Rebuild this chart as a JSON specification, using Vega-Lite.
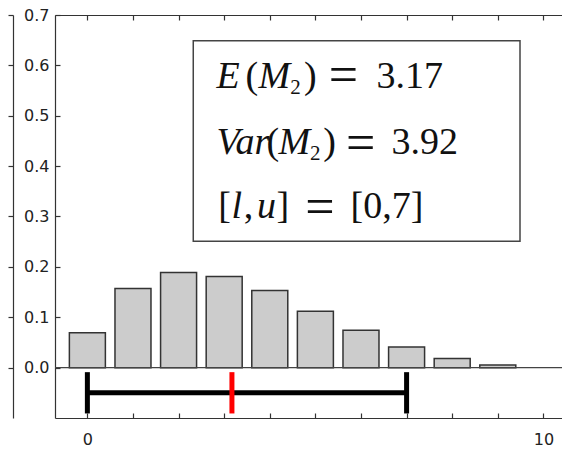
{
  "$schema": "https://vega.github.io/schema/vega-lite/v6.json",
  "width": 507,
  "height": 403,
  "autosize": {"type": "none"},
  "padding": {"left": 55, "top": 15, "right": 0, "bottom": 31},
  "config": {
    "view": {"stroke": null},
    "axis": {"labelFont": "DejaVu Sans", "labelFontSize": 16, "labelColor": "#222", "domainColor": "#333", "domainWidth": 1.2, "tickColor": "#333", "tickWidth": 1.2, "grid": false},
    "text": {"font": "Liberation Serif", "fontSize": 38, "color": "#111", "align": "left", "baseline": "alphabetic"}
  },
  "datasets": {
    "dist": [
      {"k": 0, "p": 0.069}, {"k": 1, "p": 0.157}, {"k": 2, "p": 0.189}, {"k": 3, "p": 0.181},
      {"k": 4, "p": 0.153}, {"k": 5, "p": 0.112}, {"k": 6, "p": 0.074}, {"k": 7, "p": 0.041},
      {"k": 8, "p": 0.018}, {"k": 9, "p": 0.005}
    ],
    "stats": [{"mean": 3.17, "variance": 3.92, "l": 0, "u": 7}]
  },
  "layer": [
    {
      "data": {"name": "dist"},
      "mark": {"type": "bar", "size": 36, "fill": "#cccccc", "stroke": "#333", "strokeWidth": 1.5},
      "encoding": {
        "x": {"field": "k", "type": "quantitative", "scale": {"domain": [-0.71, 10.408], "nice": false, "zero": false, "padding": 0},
          "axis": {"orient": "bottom", "title": null, "values": [0,1,2,3,4,5,6,7,8,9,10], "labelExpr": "datum.value == 0 || datum.value == 10 ? datum.label : ''", "labelOverlap": false, "labelFlush": false, "tickSize": -5, "labelPadding": 18}},
        "y": {"field": "p", "type": "quantitative", "scale": {"domain": [-0.1, 0.7], "nice": false, "zero": false, "padding": 0},
          "axis": {"title": null, "values": [0, 0.1, 0.2, 0.3, 0.4, 0.5, 0.6, 0.7], "format": ".1f", "tickSize": -5, "labelPadding": 11, "labelOverlap": false, "labelFlush": false}}
      }
    },
    {
      "data": {"name": "stats"},
      "mark": {"type": "rule", "color": "#444", "strokeWidth": 1.3},
      "encoding": {"y": {"datum": 0, "type": "quantitative", "axis": {"orient": "left", "offset": 42, "title": null, "labels": false, "values": [0, 0.1, 0.2, 0.3, 0.4, 0.5, 0.6, 0.7], "tickSize": 5}}}
    },
    {
      "data": {"name": "stats"},
      "mark": {"type": "rect", "fill": "white", "stroke": "#444", "strokeWidth": 1.5},
      "encoding": {
        "x": {"datum": 2.322, "type": "quantitative", "axis": null},
        "x2": {"datum": 9.487},
        "y": {"datum": 0.649, "type": "quantitative", "axis": null},
        "y2": {"datum": 0.251}
      }
    },
    {
      "data": {"name": "stats"},
      "mark": {"type": "rule", "color": "black", "strokeWidth": 5},
      "encoding": {
        "x": {"field": "l", "type": "quantitative", "axis": {"orient": "top", "title": null, "labels": false, "values": [0,1,2,3,4,5,6,7,8,9,10], "tickSize": -5}},
        "x2": {"field": "u"},
        "y": {"datum": -0.05, "type": "quantitative", "axis": null}
      }
    },
    {
      "data": {"name": "stats"},
      "mark": {"type": "rule", "color": "black", "strokeWidth": 5},
      "encoding": {
        "x": {"field": "l", "type": "quantitative", "axis": null},
        "y": {"datum": -0.009, "type": "quantitative", "axis": null},
        "y2": {"datum": -0.091}
      }
    },
    {
      "data": {"name": "stats"},
      "mark": {"type": "rule", "color": "black", "strokeWidth": 5},
      "encoding": {
        "x": {"field": "u", "type": "quantitative", "axis": null},
        "y": {"datum": -0.009, "type": "quantitative", "axis": null},
        "y2": {"datum": -0.091}
      }
    },
    {
      "data": {"name": "stats"},
      "mark": {"type": "rule", "color": "#ff0000", "strokeWidth": 5},
      "encoding": {
        "x": {"field": "mean", "type": "quantitative", "axis": null},
        "y": {"datum": -0.009, "type": "quantitative", "axis": null},
        "y2": {"datum": -0.091}
      }
    },
    {"data": {"name": "stats"}, "mark": {"type": "text", "fontStyle": "italic", "text": "E"},
     "encoding": {"x": {"datum": 2.83, "type": "quantitative", "axis": null}, "y": {"datum": 0.5556, "type": "quantitative", "axis": null}}},
    {"data": {"name": "stats"}, "mark": {"type": "text", "text": "("},
     "encoding": {"x": {"datum": 3.47, "type": "quantitative", "axis": null}, "y": {"datum": 0.5556, "type": "quantitative", "axis": null}}},
    {"data": {"name": "stats"}, "mark": {"type": "text", "fontStyle": "italic", "text": "M"},
     "encoding": {"x": {"datum": 3.75, "type": "quantitative", "axis": null}, "y": {"datum": 0.5556, "type": "quantitative", "axis": null}}},
    {"data": {"name": "stats"}, "mark": {"type": "text", "fontSize": 21, "text": "2"},
     "encoding": {"x": {"datum": 4.45, "type": "quantitative", "axis": null}, "y": {"datum": 0.5437, "type": "quantitative", "axis": null}}},
    {"data": {"name": "stats"}, "mark": {"type": "text", "text": ")"},
     "encoding": {"x": {"datum": 4.75, "type": "quantitative", "axis": null}, "y": {"datum": 0.5556, "type": "quantitative", "axis": null}}},
    {"data": {"name": "stats"}, "mark": {"type": "text", "fontSize": 52, "align": "center", "text": "="},
     "encoding": {"x": {"datum": 5.616, "type": "quantitative", "axis": null}, "y": {"datum": 0.548, "type": "quantitative", "axis": null}}},
    {"data": {"name": "stats"}, "mark": {"type": "text", "text": "3.17"},
     "encoding": {"x": {"datum": 6.34, "type": "quantitative", "axis": null}, "y": {"datum": 0.5556, "type": "quantitative", "axis": null}}},

    {"data": {"name": "stats"}, "mark": {"type": "text", "fontStyle": "italic", "text": "Var"},
     "encoding": {"x": {"datum": 2.83, "type": "quantitative", "axis": null}, "y": {"datum": 0.4232, "type": "quantitative", "axis": null}}},
    {"data": {"name": "stats"}, "mark": {"type": "text", "text": "("},
     "encoding": {"x": {"datum": 3.93, "type": "quantitative", "axis": null}, "y": {"datum": 0.4232, "type": "quantitative", "axis": null}}},
    {"data": {"name": "stats"}, "mark": {"type": "text", "fontStyle": "italic", "text": "M"},
     "encoding": {"x": {"datum": 4.19, "type": "quantitative", "axis": null}, "y": {"datum": 0.4232, "type": "quantitative", "axis": null}}},
    {"data": {"name": "stats"}, "mark": {"type": "text", "fontSize": 21, "text": "2"},
     "encoding": {"x": {"datum": 4.88, "type": "quantitative", "axis": null}, "y": {"datum": 0.4113, "type": "quantitative", "axis": null}}},
    {"data": {"name": "stats"}, "mark": {"type": "text", "text": ")"},
     "encoding": {"x": {"datum": 5.17, "type": "quantitative", "axis": null}, "y": {"datum": 0.4232, "type": "quantitative", "axis": null}}},
    {"data": {"name": "stats"}, "mark": {"type": "text", "fontSize": 52, "align": "center", "text": "="},
     "encoding": {"x": {"datum": 5.99, "type": "quantitative", "axis": null}, "y": {"datum": 0.4129, "type": "quantitative", "axis": null}}},
    {"data": {"name": "stats"}, "mark": {"type": "text", "text": "3.92"},
     "encoding": {"x": {"datum": 6.67, "type": "quantitative", "axis": null}, "y": {"datum": 0.4232, "type": "quantitative", "axis": null}}},

    {"data": {"name": "stats"}, "mark": {"type": "text", "text": "["},
     "encoding": {"x": {"datum": 2.87, "type": "quantitative", "axis": null}, "y": {"datum": 0.2968, "type": "quantitative", "axis": null}}},
    {"data": {"name": "stats"}, "mark": {"type": "text", "fontStyle": "italic", "text": "l"},
     "encoding": {"x": {"datum": 3.16, "type": "quantitative", "axis": null}, "y": {"datum": 0.2968, "type": "quantitative", "axis": null}}},
    {"data": {"name": "stats"}, "mark": {"type": "text", "text": ","},
     "encoding": {"x": {"datum": 3.43, "type": "quantitative", "axis": null}, "y": {"datum": 0.2968, "type": "quantitative", "axis": null}}},
    {"data": {"name": "stats"}, "mark": {"type": "text", "fontStyle": "italic", "text": "u"},
     "encoding": {"x": {"datum": 3.72, "type": "quantitative", "axis": null}, "y": {"datum": 0.2968, "type": "quantitative", "axis": null}}},
    {"data": {"name": "stats"}, "mark": {"type": "text", "text": "]"},
     "encoding": {"x": {"datum": 4.15, "type": "quantitative", "axis": null}, "y": {"datum": 0.2968, "type": "quantitative", "axis": null}}},
    {"data": {"name": "stats"}, "mark": {"type": "text", "fontSize": 52, "align": "center", "text": "="},
     "encoding": {"x": {"datum": 5.101, "type": "quantitative", "axis": null}, "y": {"datum": 0.2849, "type": "quantitative", "axis": null}}},
    {"data": {"name": "stats"}, "mark": {"type": "text", "text": "[0,7]"},
     "encoding": {"x": {"datum": 5.77, "type": "quantitative", "axis": null}, "y": {"datum": 0.2968, "type": "quantitative", "axis": null}}}
  ],
  "resolve": {"axis": {"x": "independent", "y": "independent"}}
}
